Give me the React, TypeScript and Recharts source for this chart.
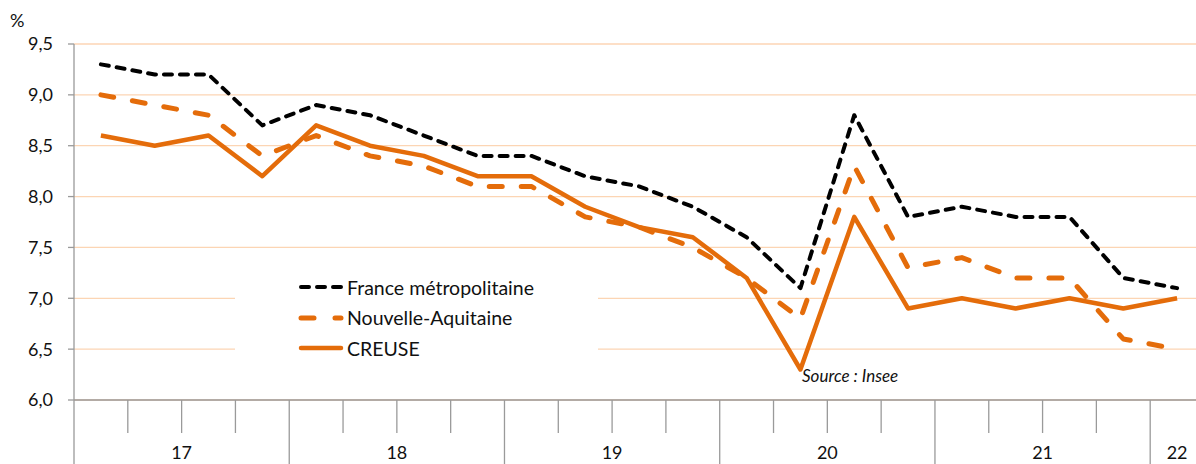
import React from 'react';
import { LineChart, Line, XAxis, YAxis, CartesianGrid, Legend } from 'recharts';

// ---- Data ----
const quarters = [
  '2017T1', '2017T2', '2017T3', '2017T4',
  '2018T1', '2018T2', '2018T3', '2018T4',
  '2019T1', '2019T2', '2019T3', '2019T4',
  '2020T1', '2020T2', '2020T3', '2020T4',
  '2021T1', '2021T2', '2021T3', '2021T4',
  '2022T1',
];
const france = [9.3, 9.2, 9.2, 8.7, 8.9, 8.8, 8.6, 8.4, 8.4, 8.2, 8.1, 7.9, 7.6, 7.1, 8.8, 7.8, 7.9, 7.8, 7.8, 7.2, 7.1];
const nouvelleAquitaine = [9.0, 8.9, 8.8, 8.4, 8.6, 8.4, 8.3, 8.1, 8.1, 7.8, 7.7, 7.5, 7.2, 6.8, 8.3, 7.3, 7.4, 7.2, 7.2, 6.6, 6.5];
const creuse = [8.6, 8.5, 8.6, 8.2, 8.7, 8.5, 8.4, 8.2, 8.2, 7.9, 7.7, 7.6, 7.2, 6.3, 7.8, 6.9, 7.0, 6.9, 7.0, 6.9, 7.0];
const yTicks = [6.0, 6.5, 7.0, 7.5, 8.0, 8.5, 9.0, 9.5];
const seriesNames = ['France métropolitaine', 'Nouvelle-Aquitaine', 'CREUSE'];
const unitLabel = '%';
const sourceLabel = 'Source : Insee';

const data = quarters.map((q, i) => ({
  q,
  france: france[i],
  na: nouvelleAquitaine[i],
  creuse: creuse[i],
}));

// ---- Layout / style ----
const VIEW_W = 1196;
const VIEW_H = 464;
const CHART_W = 1204;
const Y_AXIS_W = 74;
const TOP = 44;
const X_AXIS_H = 64;
const PLOT_BOTTOM = VIEW_H - X_AXIS_H;
const BW = (CHART_W - Y_AXIS_W) / quarters.length;
const FONT = 'Lato, "Open Sans", sans-serif';
const AXIS = '#9a9a9a';
const GRID = '#FCD5B4';
const ORANGE = '#E46C0A';

const yearOf = (q: string) => q.slice(2, 4);

const XTick = (props: any) => {
  const { x, payload } = props;
  const i: number = payload && payload.index != null ? payload.index : props.index;
  const q = quarters[i];
  const isFirst = i === 0 || yearOf(quarters[i - 1]) !== yearOf(q);
  const left = x - BW / 2;
  let label = null;
  if (isFirst) {
    let n = 0;
    while (i + n < quarters.length && yearOf(quarters[i + n]) === yearOf(q)) n++;
    const cx = x + ((n - 1) / 2) * BW;
    label = (
      <text x={cx} y={PLOT_BOTTOM + 59} textAnchor="middle" fontSize={18} fill="#111" fontFamily={FONT}>
        {yearOf(q)}
      </text>
    );
  }
  return (
    <g>
      <line x1={left} x2={left} y1={PLOT_BOTTOM} y2={isFirst ? VIEW_H : PLOT_BOTTOM + 33} stroke={AXIS} strokeWidth={1.3} />
      {label}
    </g>
  );
};

const LegendContent = () => {
  const items = [
    { name: seriesNames[0], color: '#000', dash: '8 8', width: 4 },
    { name: seriesNames[1], color: ORANGE, dash: '13 21', width: 5 },
    { name: seriesNames[2], color: ORANGE, dash: undefined, width: 4.5 },
  ];
  return (
    <div style={{ width: 363, height: 103, background: '#fff', position: 'relative' }}>
      {items.map((it, k) => (
        <div key={k} style={{ position: 'absolute', left: 63, top: 13 + k * 30.5, height: 24, display: 'flex', alignItems: 'center' }}>
          <svg width={48} height={10} style={{ display: 'block' }}>
            <line x1={3} x2={43} y1={5} y2={5} stroke={it.color} strokeWidth={it.width} strokeDasharray={it.dash} strokeLinecap="round" />
          </svg>
          <span style={{ fontFamily: FONT, fontSize: 19.5, color: '#111', marginLeft: 1, whiteSpace: 'nowrap' }}>{it.name}</span>
        </div>
      ))}
    </div>
  );
};

export default function App() {
  return (
    <div style={{ position: 'absolute', left: 0, top: 0, width: VIEW_W, height: VIEW_H, overflow: 'hidden', background: '#fff' }}>
      <LineChart
        width={CHART_W}
        height={VIEW_H}
        data={data}
        margin={{ top: TOP, right: 0, bottom: 0, left: 0 }}
        style={{ fontFamily: FONT }}
      >
        <CartesianGrid vertical={false} stroke={GRID} strokeWidth={1.3} />
        <XAxis
          dataKey="q"
          height={X_AXIS_H}
          interval={0}
          padding={{ left: BW / 2, right: BW / 2 }}
          tickLine={false}
          axisLine={{ stroke: AXIS, strokeWidth: 1.3 }}
          tick={<XTick />}
        />
        <YAxis
          width={Y_AXIS_W}
          domain={[6, 9.5]}
          ticks={yTicks}
          interval={0}
          tickSize={6}
          tickMargin={15}
          axisLine={{ stroke: AXIS, strokeWidth: 1.3 }}
          tickLine={{ stroke: AXIS, strokeWidth: 1.3 }}
          tick={{ fontSize: 18, fill: '#111', fontFamily: FONT }}
          tickFormatter={(v: number) => v.toFixed(1).replace('.', ',')}
        />
        <Legend
          layout="horizontal"
          verticalAlign="middle"
          align="center"
          content={<LegendContent />}
          wrapperStyle={{ position: 'absolute', left: 235, top: 262, width: 363, height: 103 }}
        />
        <Line dataKey="france" name={seriesNames[0]} stroke="#000" strokeWidth={4} strokeDasharray="8 8" strokeLinecap="round" strokeLinejoin="round" dot={false} isAnimationActive={false} />
        <Line dataKey="na" name={seriesNames[1]} stroke={ORANGE} strokeWidth={5} strokeDasharray="13 19" strokeLinecap="round" strokeLinejoin="round" dot={false} isAnimationActive={false} />
        <Line dataKey="creuse" name={seriesNames[2]} stroke={ORANGE} strokeWidth={4.5} strokeLinejoin="round" dot={false} isAnimationActive={false} />
      </LineChart>
      <div style={{ position: 'absolute', left: 10, top: 9, fontFamily: FONT, fontSize: 18, color: '#111' }}>{unitLabel}</div>
      <div style={{ position: 'absolute', left: 802, top: 365, fontFamily: FONT, fontSize: 17, fontStyle: 'italic', color: '#111' }}>{sourceLabel}</div>
    </div>
  );
}
